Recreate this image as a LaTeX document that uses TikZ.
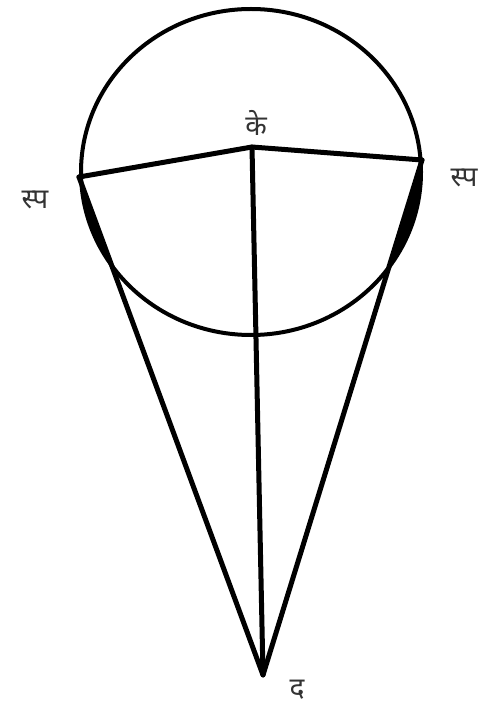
\documentclass[tikz,border=0pt]{standalone}
\usepackage{fontspec}
\newfontfamily\devfont[Script=Devanagari]{Noto Sans}
\begin{document}
\begin{tikzpicture}[x=1pt,y=-1pt,
  edge/.style={line width=5pt,line cap=round,line join=round},
  rim/.style={line width=4pt},
  lbl/.style={font=\devfont\fontsize{28}{32}\selectfont,text=black!80,inner sep=0pt}]
\useasboundingbox (0,0) rectangle (493,708);
\coordinate (C) at (251,172);
\coordinate (K) at (252,147);
\coordinate (L) at (79,177);
\coordinate (R) at (422,160);
\coordinate (D) at (263,675);
\begin{scope}
  \clip (C) ellipse [x radius=170, y radius=163];
  \fill (L) -- (D) -- (0,675) -- (0,177) -- cycle;
  \fill (R) -- (D) -- (493,675) -- (493,160) -- cycle;
\end{scope}
\draw[rim] (C) ellipse [x radius=170, y radius=163];
\draw[edge] (L) -- (K) -- (R);
\draw[edge] (K) -- (D);
\draw[edge] (L) -- (D) -- (R);
\node[lbl] (k) at (256,123) {के};
\node[lbl] (sl) at (35,200) {स्प};
\node[lbl] (sr) at (464,178) {स्प};
\node[lbl] (d) at (297,690) {द};
\end{tikzpicture}
\end{document}
